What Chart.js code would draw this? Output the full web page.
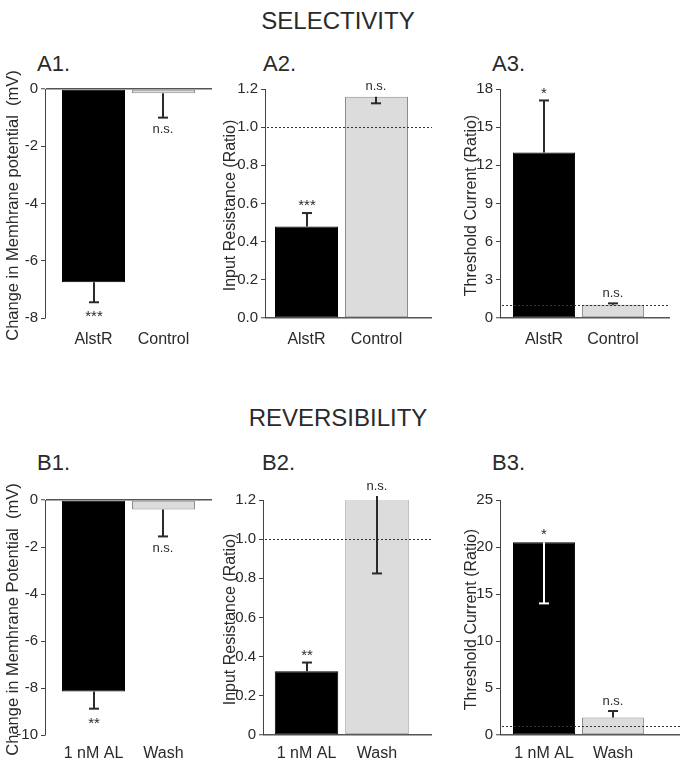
<!DOCTYPE html>
<html><head><meta charset="utf-8">
<script src="https://cdn.jsdelivr.net/npm/chart.js@4/dist/chart.umd.min.js"></script>
<style>
html,body{margin:0;padding:0;background:#fff}
body{width:680px;height:759px;position:relative;overflow:hidden;font-family:"Liberation Sans",Arial,Helvetica,sans-serif;color:#2a2a2a}
.t{position:absolute;white-space:nowrap;line-height:1}
.sec{font-size:24px;transform:translate(-50%,-50%)}
.pt{font-size:22px;transform:translateY(-50%)}
canvas{position:absolute}
</style></head><body>
<div class="t sec" style="left:338px;top:21px">SELECTIVITY</div>
<div class="t sec" style="left:338px;top:418px">REVERSIBILITY</div>
<div class="t pt" style="left:37px;top:64px">A1.</div>
<div class="t pt" style="left:263px;top:64px">A2.</div>
<div class="t pt" style="left:492px;top:64px">A3.</div>
<div class="t pt" style="left:37px;top:463px">B1.</div>
<div class="t pt" style="left:262px;top:463px">B2.</div>
<div class="t pt" style="left:492px;top:463px">B3.</div>
<canvas id="a1"></canvas><canvas id="a2"></canvas><canvas id="a3"></canvas>
<canvas id="b1"></canvas><canvas id="b2"></canvas><canvas id="b3"></canvas>
<script>
// ---- data ----
const categoriesA = ['AlstR', 'Control'];
const categoriesB = ['1 nM AL', 'Wash'];

const a1Values = [-6.75, -0.15];
const a1ErrEnds = [-7.45, -1.0];
const a1Signif = ['***', 'n.s.'];
const a1Ticks = [0, -2, -4, -6, -8];
const a1TickLabels = ['0', '-2', '-4', '-6', '-8'];

const a2Values = [0.48, 1.16];
const a2ErrEnds = [0.55, 1.125];
const a2Signif = ['***', 'n.s.'];
const a2Ticks = [0, 0.2, 0.4, 0.6, 0.8, 1.0, 1.2];
const a2TickLabels = ['0.0', '0.2', '0.4', '0.6', '0.8', '1.0', '1.2'];

const a3Values = [13.0, 1.05];
const a3ErrEnds = [17.1, 1.15];
const a3Signif = ['*', 'n.s.'];
const a3Ticks = [0, 3, 6, 9, 12, 15, 18];
const a3TickLabels = ['0', '3', '6', '9', '12', '15', '18'];

const b1Values = [-8.15, -0.4];
const b1ErrEnds = [-8.88, -1.55];
const b1Signif = ['**', 'n.s.'];
const b1Ticks = [0, -2, -4, -6, -8, -10];
const b1TickLabels = ['0', '-2', '-4', '-6', '-8', '-10'];

const b2Values = [0.325, 1.22];
const b2ErrEnds = [0.37, 0.825];
const b2Signif = ['**', 'n.s.'];
const b2Ticks = [0, 0.2, 0.4, 0.6, 0.8, 1.0, 1.2];
const b2TickLabels = ['0', '0.2', '0.4', '0.6', '0.8', '1.0', '1.2'];

const b3Values = [20.5, 1.85];
const b3ErrEnds = [14.0, 2.55];
const b3Signif = ['*', 'n.s.'];
const b3Ticks = [0, 5, 10, 15, 20, 25];
const b3TickLabels = ['0', '5', '10', '15', '20', '25'];

const referenceRatio = 1.0;

const titleMP_A = 'Change in Memhrane potential  (mV)';
const titleMP_B = 'Change in Memhrane Potential  (mV)';
const titleIR = 'Input Resistance (Ratio)';
const titleTC = 'Threshold Current (Ratio)';

// ---- styling / layout ----
const BAR_COLORS = ['#000000', '#dcdcdc'];
const BAR_BORDERS = ['#000000', '#8c8c8c'];
const FONT = '"Liberation Sans", Arial, Helvetica, sans-serif';
const TXT = '#2a2a2a';

const panels = [
  {id:'a1', cats:categoriesA, values:a1Values, errs:a1ErrEnds, sig:a1Signif, ticks:a1Ticks, tickLabels:a1TickLabels, ytitle:titleMP_A, ref:false,
   box:{left:0, top:70, width:222, height:275, padL:3, padR:10, padT:19, yW:42, xH:27, xPad:4, xMin:0.307, xMax:2.693, tSize:16.5}},
  {id:'a2', cats:categoriesA, values:a2Values, errs:a2ErrEnds, sig:a2Signif, ticks:a2Ticks, tickLabels:a2TickLabels, ytitle:titleIR, ref:true,
   box:{left:220, top:70, width:220, height:275, padL:1, padR:8, padT:19, yW:44, xH:27, xPad:4, xMin:0.407, xMax:2.793, tSize:16}},
  {id:'a3', cats:categoriesA, values:a3Values, errs:a3ErrEnds, sig:a3Signif, ticks:a3Ticks, tickLabels:a3TickLabels, ytitle:titleTC, ref:true,
   box:{left:440, top:70, width:240, height:275, padL:22, padR:10, padT:19, yW:38, xH:27, xPad:4, xMin:0.362, xMax:2.826, tSize:16}},
  {id:'b1', cats:categoriesB, values:b1Values, errs:b1ErrEnds, sig:b1Signif, ticks:b1Ticks, tickLabels:b1TickLabels, ytitle:titleMP_B, ref:false,
   box:{left:0, top:480, width:222, height:279, padL:3, padR:10, padT:20, yW:42, xH:24, xPad:1, xMin:0.307, xMax:2.693, tSize:16.5}},
  {id:'b2', cats:categoriesB, values:b2Values, errs:b2ErrEnds, sig:b2Signif, ticks:b2Ticks, tickLabels:b2TickLabels, ytitle:titleIR, ref:true,
   box:{left:220, top:480, width:220, height:279, padL:1, padR:8, padT:20, yW:42, xH:24, xPad:1, xMin:0.383, xMax:2.78, tSize:16}},
  {id:'b3', cats:categoriesB, values:b3Values, errs:b3ErrEnds, sig:b3Signif, ticks:b3Ticks, tickLabels:b3TickLabels, ytitle:titleTC, ref:true,
   box:{left:440, top:480, width:240, height:279, padL:22, padR:0, padT:20, yW:38, xH:24, xPad:1, xMin:0.362, xMax:2.97, tSize:16}}
];

const overlayPlugin = {
  id: 'overlay',
  afterDatasetsDraw(chart) {
    const p = chart.options.plugins.overlay.panel;
    const ctx = chart.ctx;
    const ys = chart.scales.y;
    const area = chart.chartArea;
    const meta = chart.getDatasetMeta(0);
    ctx.save();
    if (p.ref) {
      const yr = Math.round(ys.getPixelForValue(referenceRatio)) + 0.5;
      ctx.strokeStyle = '#333';
      ctx.lineWidth = 1;
      ctx.setLineDash([2, 2]);
      ctx.beginPath(); ctx.moveTo(area.left + 2, yr); ctx.lineTo(area.right, yr); ctx.stroke();
      ctx.setLineDash([]);
    }
    meta.data.forEach((bar, i) => {
      const v = p.values[i], e = p.errs[i];
      const x = Math.round(bar.x);
      const y0 = ys.getPixelForValue(v);
      const y1 = ys.getPixelForValue(e);
      const inside = Math.abs(e) < Math.abs(v);
      ctx.strokeStyle = (inside && i === 0) ? '#ffffff' : '#2a2a2a';
      ctx.lineWidth = 2;
      ctx.beginPath(); ctx.moveTo(x, y0); ctx.lineTo(x, y1); ctx.stroke();
      ctx.beginPath(); ctx.moveTo(x - 5, y1); ctx.lineTo(x + 5, y1); ctx.stroke();
      const neg = v < 0;
      const ext = neg ? Math.min(v, e) : Math.max(v, e);
      const ye = ys.getPixelForValue(ext);
      const txt = p.sig[i];
      const star = txt.indexOf('*') >= 0;
      ctx.fillStyle = TXT;
      ctx.textAlign = 'center';
      ctx.textBaseline = 'middle';
      ctx.font = (star ? '15px ' : '13px ') + FONT;
      let ty = neg ? ye + 12 : ye - 10;
      if (star) ty += 3;
      ctx.fillText(txt, x, ty);
    });
    ctx.restore();
  },
  afterDraw(chart) {
    const p = chart.options.plugins.overlay.panel;
    const ctx = chart.ctx;
    const area = chart.chartArea;
    ctx.save();
    ctx.font = p.box.tSize + 'px ' + FONT;
    ctx.fillStyle = TXT;
    ctx.textAlign = 'center';
    ctx.textBaseline = 'middle';
    ctx.translate(p.box.padL + 10, (area.top + area.bottom) / 2 + 2);
    ctx.rotate(-Math.PI / 2);
    ctx.fillText(p.ytitle, 0, 0);
    ctx.restore();
  }
};

panels.forEach(p => {
  const b = p.box;
  const cv = document.getElementById(p.id);
  cv.style.left = b.left + 'px';
  cv.style.top = b.top + 'px';
  cv.style.width = b.width + 'px';
  cv.style.height = b.height + 'px';
  cv.width = b.width; cv.height = b.height;
  const yMin = Math.min(...p.ticks), yMax = Math.max(...p.ticks);
  new Chart(cv, {
    type: 'bar',
    data: {
      datasets: [{
        data: p.values.map((v, i) => ({x: i + 1, y: v})),
        backgroundColor: BAR_COLORS,
        borderColor: BAR_BORDERS,
        borderWidth: 1,
        borderSkipped: false,
        barPercentage: 0.9,
        categoryPercentage: 1.0
      }]
    },
    plugins: [overlayPlugin],
    options: {
      responsive: false,
      animation: false,
      devicePixelRatio: 1,
      layout: {padding: {left: b.padL, right: b.padR, top: b.padT, bottom: 0}},
      plugins: {
        legend: {display: false},
        tooltip: {enabled: false},
        title: {display: false},
        overlay: {panel: p}
      },
      scales: {
        x: {
          type: 'linear',
          offset: false,
          bounds: 'data',
          min: b.xMin, max: b.xMax,
          grid: {display: false, offset: false},
          border: {display: false},
          afterBuildTicks: s => { s.ticks = p.cats.map((c, i) => ({value: i + 1})); },
          afterFit: s => { s.height = b.xH; },
          ticks: {
            autoSkip: false, maxRotation: 0, minRotation: 0, padding: b.xPad,
            color: TXT, font: {family: FONT, size: 16},
            callback: v => p.cats[v - 1]
          }
        },
        y: {
          type: 'linear',
          min: yMin, max: yMax,
          afterBuildTicks: s => { s.ticks = p.ticks.map(v => ({value: v})); },
          afterFit: s => { s.width = b.yW; },
          border: {display: true, color: '#444', width: 1},
          grid: {
            display: true, drawOnChartArea: true, drawTicks: true, tickLength: 4,
            color: c => (c.tick && c.tick.value === 0) ? '#555' : 'rgba(0,0,0,0)',
            lineWidth: c => (c.tick && c.tick.value === 0) ? 1.5 : 1,
            tickColor: '#444', tickWidth: 1
          },
          ticks: {
            padding: 3, color: TXT, font: {family: FONT, size: 15},
            callback: v => p.tickLabels[p.ticks.indexOf(v)]
          }
        }
      }
    }
  });
});
</script>
</body></html>
